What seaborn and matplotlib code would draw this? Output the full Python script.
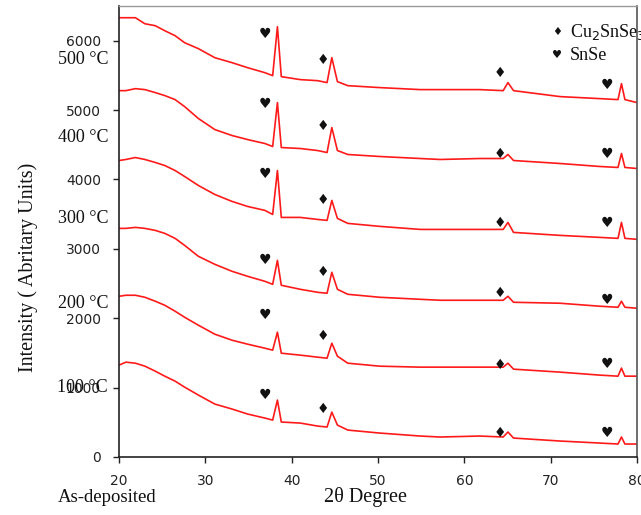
import matplotlib
matplotlib.use("Agg")
import matplotlib.pyplot as plt
import seaborn as sns
import pandas as pd

# 2-theta sampling positions (degrees)
two_theta = [20.0, 20.8, 21.9, 23.0, 24.2, 25.3, 26.5, 27.6, 29.2, 31.1, 33.1, 34.9,
             36.9, 37.8, 38.35, 38.8, 41.0, 43.0, 44.1, 44.65, 45.3, 46.5, 50.2, 54.9,
             57.2, 61.8, 64.5, 65.05, 65.7, 71.1, 75.7, 77.8, 78.2, 78.6, 80.0]

# Offset intensity traces, top to bottom
i_500 = [6331, 6331, 6331, 6244, 6216, 6144, 6072, 5971, 5885, 5755, 5683, 5611,
         5539, 5496, 6201, 5482, 5439, 5424, 5396, 5755, 5410, 5352, 5324, 5295,
         5295, 5295, 5280, 5396, 5280, 5194, 5165, 5151, 5381, 5151, 5108]
i_400 = [5280, 5280, 5309, 5295, 5252, 5209, 5151, 5050, 4878, 4719, 4633, 4575,
         4518, 4475, 5108, 4460, 4446, 4417, 4388, 4748, 4417, 4360, 4331, 4302,
         4288, 4302, 4302, 4360, 4273, 4230, 4187, 4173, 4374, 4173, 4158]
i_300 = [4273, 4288, 4316, 4288, 4245, 4201, 4129, 4043, 3913, 3784, 3683, 3611,
         3554, 3496, 4129, 3453, 3453, 3424, 3410, 3698, 3439, 3367, 3324, 3280,
         3280, 3280, 3280, 3381, 3237, 3194, 3165, 3151, 3381, 3151, 3137]
i_200 = [3295, 3295, 3309, 3295, 3266, 3223, 3151, 3050, 2892, 2777, 2676, 2604,
         2532, 2489, 2834, 2475, 2417, 2374, 2360, 2662, 2417, 2345, 2302, 2273,
         2259, 2259, 2259, 2316, 2230, 2216, 2173, 2158, 2245, 2158, 2144]
i_100 = [2316, 2331, 2331, 2302, 2245, 2187, 2101, 2014, 1899, 1770, 1683, 1626,
         1568, 1540, 1799, 1496, 1468, 1439, 1424, 1640, 1453, 1352, 1309, 1295,
         1295, 1295, 1295, 1352, 1266, 1223, 1180, 1165, 1281, 1165, 1165]
i_asdep = [1324, 1367, 1352, 1309, 1237, 1165, 1093, 1007, 892, 763, 691, 619,
           561, 532, 820, 504, 489, 446, 432, 647, 460, 388, 345, 302,
           288, 302, 288, 360, 273, 230, 201, 187, 288, 187, 187]

samples = ["500 °C", "400 °C", "300 °C", "200 °C", "100 °C", "As-deposited"]
traces = [i_500, i_400, i_300, i_200, i_100, i_asdep]

# Phase markers: SnSe (heart) at ~36.9 and ~76.5, Cu2SnSe3 (diamond) at ~43.6 and ~64.1
snse_x = [36.9, 76.5]
cts_x = [43.6, 64.1]
snse_y = [[6101, 5367], [5093, 4360], [4072, 3367], [2834, 2259], [2043, 1338], [892, 345]]
cts_y = [[5726, 5539], [4777, 4360], [3698, 3367], [2662, 2360], [1741, 1324], [691, 345]]

y_ticks = [0, 1000, 2000, 3000, 4000, 5000, 6000]
x_ticks = [20, 30, 40, 50, 60, 70, 80]

df = pd.concat(
    [pd.DataFrame({"two_theta": two_theta, "intensity": t, "sample": s})
     for s, t in zip(samples, traces)],
    ignore_index=True,
)

sns.set_style("ticks")
plt.rcParams["font.family"] = ["DejaVu Sans"]

W, H = 641, 515
fig = plt.figure(figsize=(W / 100, H / 100), dpi=100)
ax = fig.add_axes([119 / W, 1 - 457 / H, (637 - 119) / W, (457 - 6) / H])

sns.lineplot(data=df, x="two_theta", y="intensity", hue="sample", units="sample",
             estimator=None, sort=False, palette=["#ff1a1a"] * len(samples),
             linewidth=1.2, legend=False, ax=ax)

for hy, dy in zip(snse_y, cts_y):
    for x, y in zip(snse_x, hy):
        ax.text(x, y, "\u2665", ha="center", va="center", fontsize=10, color="#111111")
    for x, y in zip(cts_x, dy):
        ax.text(x, y, "\u2666", ha="center", va="center", fontsize=10, color="#111111")

ax.set_xlim(20, 80)
ax.set_ylim(0, 6500)
ax.set_xticks(x_ticks)
ax.set_yticks(y_ticks)
ax.tick_params(axis="both", direction="out", length=4, width=1, labelsize=10,
               colors="#222222")
ax.tick_params(axis="y", pad=9)
ax.tick_params(axis="x", pad=8)
ax.set_xlabel("")
ax.set_ylabel("")
for side in ["left", "bottom"]:
    ax.spines[side].set_color("#222222")
    ax.spines[side].set_linewidth(1.2)
ax.spines["top"].set_color("#999999")
ax.spines["right"].set_color("#555555")
ax.spines["top"].set_linewidth(1.0)
ax.spines["right"].set_linewidth(1.2)

serif = ["Liberation Serif", "DejaVu Serif"]


def fig_px(x, y):
    return x / W, 1 - y / H


label_rows = [59, 138, 219, 303, 388]
for s, yy in zip(samples[:5], label_rows):
    fig.text(*fig_px(108, yy), s, ha="right", va="center", fontsize=13,
             family=serif, color="#111111")
fig.text(*fig_px(58, 497), samples[5], ha="left", va="center", fontsize=13.5,
         family=serif, color="#111111")

fig.text(*fig_px(366, 497), "2θ Degree", ha="center", va="center", fontsize=14.5,
         family=serif, color="#111111")
fig.text(*fig_px(28, 267), "Intensity ( Abritary Units)", ha="center", va="center",
         rotation=90, fontsize=14.5, family=serif, color="#111111")

# Phase legend
fig.text(*fig_px(557, 32), "\u2666", ha="center", va="center", fontsize=8, color="#111111")
fig.text(*fig_px(570, 32), "Cu$_2$SnSe$_3$", ha="left", va="center", fontsize=13,
         family=serif, color="#111111")
fig.text(*fig_px(557, 55), "\u2665", ha="center", va="center", fontsize=8, color="#111111")
fig.text(*fig_px(570, 55), "SnSe", ha="left", va="center", fontsize=13,
         family=serif, color="#111111")

fig.savefig("out.png", dpi=100)
